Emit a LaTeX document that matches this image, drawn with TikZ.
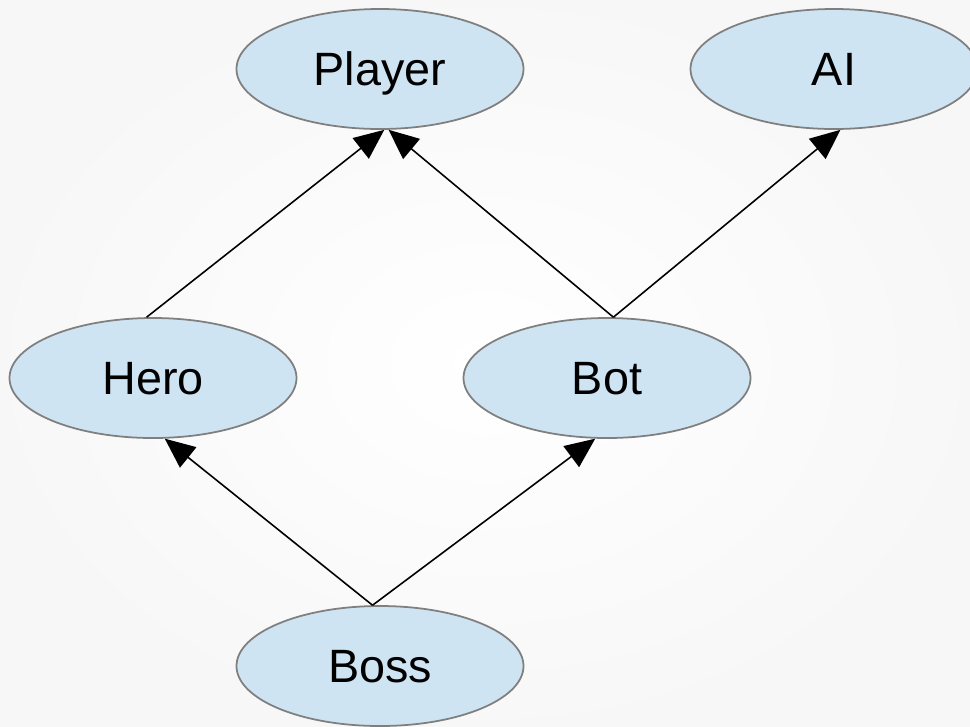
\documentclass[tikz,border=0pt]{standalone}
\usepackage{fontspec}
\setmainfont{Liberation Sans}
\usetikzlibrary{shapes.geometric,arrows.meta}
\definecolor{classfill}{HTML}{CFE4F3}
\definecolor{classline}{HTML}{7F7F7F}
\begin{document}
\begin{tikzpicture}[
  classnode/.style={ellipse, draw=classline, fill=classfill, line width=0.5pt,
    minimum width=2.87cm, minimum height=1.2cm, inner sep=0pt, text depth=0pt,
    font=\fontsize{13.3}{15}\selectfont},
  inherit/.style={-{Triangle[length=0.3cm,width=0.26cm]}, line width=0.45pt}]
\useasboundingbox (0,0) rectangle (9.7,7.26);
\shade[inner color=white, outer color=black!3] (0,0) rectangle (9.7,7.26);
% top row:
\node[classnode] (player) at (3.80,6.57) {Player};
\node[classnode] (ai) at (8.34,6.57) {AI};
% middle row:
\node[classnode] (hero) at (1.53,3.48) {Hero};
\node[classnode] (bot) at (6.07,3.48) {Bot};
% bottom row:
\node[classnode] (boss) at (3.80,0.60) {Boss};
% generalisations:
\draw[inherit] (hero.96) -- (player.-86);
\draw[inherit] (bot.84) -- (player.-82);
\draw[inherit] (bot.84) -- (ai.-84);
\draw[inherit] (boss.97) -- (hero.-79);
\draw[inherit] (boss.97) -- (bot.-101);
\end{tikzpicture}
\end{document}
